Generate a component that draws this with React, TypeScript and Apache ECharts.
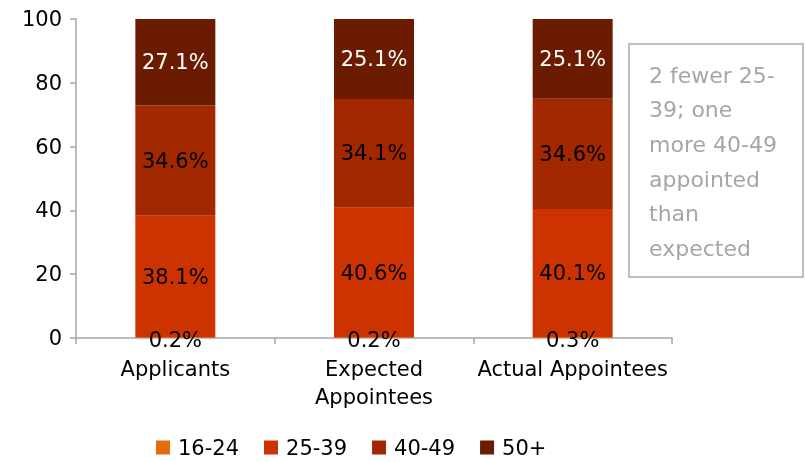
import React, { useEffect, useRef } from "react";
import * as echarts from "echarts";

const categories = ["Applicants", "Expected\nAppointees", "Actual Appointees"];
const seriesNames = ["16-24", "25-39", "40-49", "50+"];
const age16to24 = [0.2, 0.2, 0.3];
const age25to39 = [38.1, 40.6, 40.1];
const age40to49 = [34.6, 34.1, 34.6];
const age50plus = [27.1, 25.1, 25.1];
const yTicks = { min: 0, max: 100, interval: 20 };
const noteLines = ["2 fewer 25-", "39; one", "more 40-49", "appointed", "than", "expected"];

const colors = ["#E46C0A", "#CC3300", "#A32800", "#6B1C00"];
const FONT = "'DejaVu Sans', sans-serif";

export default function App() {
  const ref = useRef<HTMLDivElement>(null);
  useEffect(() => {
    if (!ref.current) return;
    const chart = echarts.init(ref.current, undefined, { renderer: "svg" });
    const data = [age16to24, age25to39, age40to49, age50plus];
    const series = seriesNames.map((name, i) => ({
      name,
      type: "bar",
      stack: "total",
      barWidth: 80,
      data: data[i],
      itemStyle: { color: colors[i] },
      label: {
        show: true,
        position: "inside",
        formatter: (p: any) => p.value.toFixed(1) + "%",
        color: i === 3 ? "#FFFFFF" : "#000000",
        fontSize: 21,
        fontFamily: FONT,
        offset: i === 0 ? [0, 2] : [0, 0],
      },
    }));
    chart.setOption({
      animation: false,
      color: colors,
      grid: { left: 76, right: 133, top: 19, bottom: 124 },
      legend: {
        data: seriesNames,
        left: 151,
        top: 432,
        itemWidth: 14,
        itemHeight: 14,
        itemGap: 25,
        icon: "rect",
        textStyle: { fontSize: 21, fontFamily: FONT, color: "#000", padding: [0, 0, 0, 3] },
      },
      xAxis: {
        type: "category",
        data: categories,
        axisLine: { lineStyle: { color: "#A6A6A6", width: 1.5 } },
        axisTick: { show: true, length: 6, lineStyle: { color: "#A6A6A6", width: 1.5 } },
        axisLabel: {
          fontSize: 21,
          fontFamily: FONT,
          color: "#000",
          margin: 17,
          lineHeight: 28,
          interval: 0,
        },
      },
      yAxis: {
        type: "value",
        min: yTicks.min,
        max: yTicks.max,
        interval: yTicks.interval,
        splitLine: { show: false },
        axisLine: { show: true, lineStyle: { color: "#A6A6A6", width: 1.5 } },
        axisTick: { show: true, length: 6, lineStyle: { color: "#A6A6A6", width: 1.5 } },
        axisLabel: { fontSize: 21, fontFamily: FONT, color: "#000", margin: 14 },
      },
      graphic: [
        {
          type: "rect",
          shape: { x: 629, y: 44, width: 174, height: 233 },
          style: { fill: "#fff", stroke: "#BFBFBF", lineWidth: 2 },
        },
        {
          type: "text",
          x: 649,
          y: 58,
          style: {
            text: noteLines.join("\n"),
            fill: "#A6A6A6",
            fontSize: 22,
            fontFamily: FONT,
            lineHeight: 34.6,
          },
        },
      ],
      series,
    });
    return () => chart.dispose();
  }, []);
  return (
    <div
      ref={ref}
      style={{ position: "fixed", left: 0, top: 0, width: 805, height: 462, overflow: "hidden" }}
    />
  );
}
